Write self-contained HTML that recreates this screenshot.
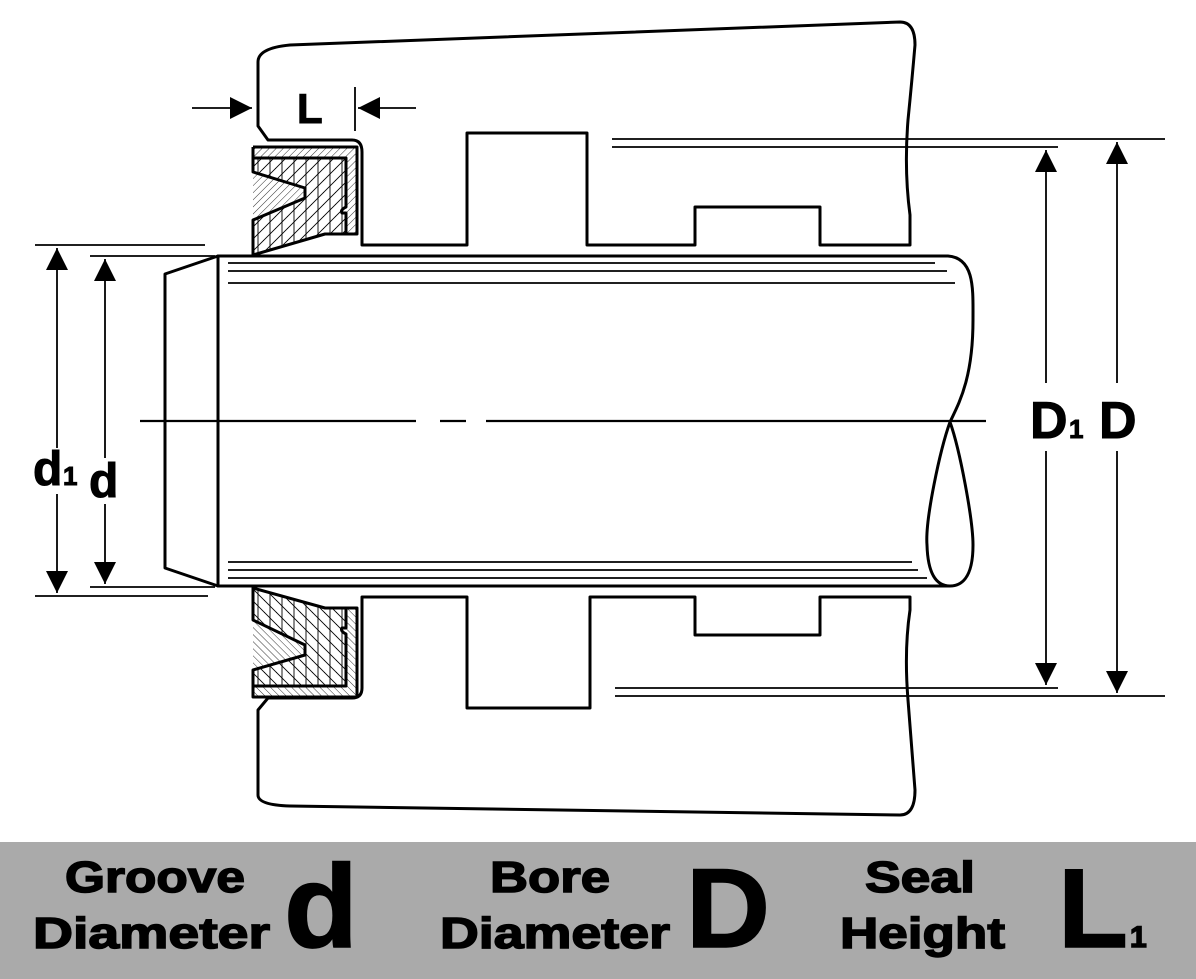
<!DOCTYPE html>
<html><head><meta charset="utf-8"><style>
html,body{margin:0;padding:0;background:#fff;}
svg{display:block;}
</style></head><body>
<svg width="1196" height="979" viewBox="0 0 1196 979" xmlns="http://www.w3.org/2000/svg">
<defs>
<pattern id="hs" width="5" height="5" patternUnits="userSpaceOnUse" patternTransform="rotate(45)">
<line x1="0" y1="0" x2="0" y2="5" stroke="#000" stroke-width="0.8"/></pattern>
<pattern id="hs2" width="5" height="5" patternUnits="userSpaceOnUse" patternTransform="rotate(-45)">
<line x1="0" y1="0" x2="0" y2="5" stroke="#000" stroke-width="0.8"/></pattern>
<pattern id="hx" width="12" height="12" patternUnits="userSpaceOnUse">
<line x1="0" y1="12" x2="12" y2="0" stroke="#000" stroke-width="0.9"/>
<line x1="-6" y1="6" x2="6" y2="-6" stroke="#000" stroke-width="0.9"/>
<line x1="6" y1="18" x2="18" y2="6" stroke="#000" stroke-width="0.9"/>
<line x1="6" y1="0" x2="6" y2="12" stroke="#000" stroke-width="0.9"/></pattern>
<pattern id="hx2" width="12" height="12" patternUnits="userSpaceOnUse">
<line x1="0" y1="0" x2="12" y2="12" stroke="#000" stroke-width="0.9"/>
<line x1="-6" y1="6" x2="6" y2="18" stroke="#000" stroke-width="0.9"/>
<line x1="6" y1="-6" x2="18" y2="6" stroke="#000" stroke-width="0.9"/>
<line x1="6" y1="0" x2="6" y2="12" stroke="#000" stroke-width="0.9"/></pattern>
<marker id="arL" viewBox="0 0 10 10" refX="10" refY="5" markerWidth="34" markerHeight="22" markerUnits="userSpaceOnUse" orient="auto">
<path d="M0 0 L10 5 L0 10 z" fill="#000"/></marker>
</defs>
<g fill="none" stroke="#000" stroke-width="3" stroke-linejoin="round">
<path d="M362 245 V152 Q362 140 352 140 H268 L258 126 V62 Q258 48 290 45 L900 22 Q915 22 915 45 Q912 80 908 120 Q904 170 910 215 L910 245 H820 V207 H695 V245 H587 V133 H467 V245 Z" fill="#fff"/>
<path d="M362 597 V688 Q362 698 352 698 H268 L258 710 V795 Q258 805 290 806 L900 815 Q915 815 915 790 Q912 750 908 700 Q904 650 910 610 L910 597 H820 V635 H695 V597 H590 V708 H467 V597 Z" fill="#fff"/>
<path d="M218 256 H948 C975 258 973 290 973 320 C973 380 958 405 950 422 C960 450 973 520 973 545 C973 580 960 586 950 586 H218 Z" fill="#fff"/>
<path d="M950 422 C940 450 925 520 927 545 C928 580 940 586 950 586"/>
<path d="M218 256 L165 274 V568 L218 586 Z" fill="#fff"/>
</g>
<g stroke="#000" stroke-width="1.8">
<line x1="228" y1="263" x2="935" y2="263"/><line x1="228" y1="271" x2="947" y2="271"/><line x1="228" y1="283" x2="955" y2="283"/>
<line x1="228" y1="562" x2="912" y2="562"/><line x1="228" y1="570" x2="918" y2="570"/><line x1="228" y1="578" x2="927" y2="578"/>
<line x1="140" y1="421" x2="416" y2="421" stroke-width="2.2"/><line x1="440" y1="421" x2="466" y2="421" stroke-width="2.2"/><line x1="486" y1="421" x2="986" y2="421" stroke-width="2.2"/>
<line x1="612" y1="139" x2="1165" y2="139"/><line x1="612" y1="147" x2="1058" y2="147"/>
<line x1="615" y1="688" x2="1058" y2="688"/><line x1="615" y1="696" x2="1165" y2="696"/>
<line x1="1046" y1="383" x2="1046" y2="150" marker-end="url(#arL)"/><line x1="1046" y1="451" x2="1046" y2="685" marker-end="url(#arL)"/>
<line x1="1117" y1="383" x2="1117" y2="142" marker-end="url(#arL)"/><line x1="1117" y1="451" x2="1117" y2="693" marker-end="url(#arL)"/>
<line x1="35" y1="245" x2="205" y2="245"/><line x1="35" y1="596" x2="208" y2="596"/>
<line x1="90" y1="256" x2="215" y2="256"/><line x1="90" y1="587" x2="215" y2="587"/>
<line x1="57" y1="448" x2="57" y2="248" marker-end="url(#arL)"/><line x1="57" y1="494" x2="57" y2="593" marker-end="url(#arL)"/>
<line x1="105" y1="458" x2="105" y2="259" marker-end="url(#arL)"/><line x1="105" y1="504" x2="105" y2="584" marker-end="url(#arL)"/>
<line x1="192" y1="108" x2="252" y2="108" marker-end="url(#arL)"/>
<line x1="416" y1="108" x2="358" y2="108" marker-end="url(#arL)"/>
<line x1="355" y1="87" x2="355" y2="131"/>
</g>
<g stroke="#000" stroke-linejoin="round">
<path d="M253 147 H357 V234 H253 Z" fill="url(#hs)" stroke="none"/>
<path d="M253 158 H346 V207 Q340 210 342 213 H346 V234 L325 234 L253 255 V220 L305 198 V188 L253 172 Z" fill="#fff" stroke="none"/>
<path d="M253 158 H346 V207 Q340 210 342 213 H346 V234 L325 234 L253 255 V220 L305 198 V188 L253 172 Z" fill="url(#hx)" stroke-width="3"/>
<path d="M253 147 H357 V234 H325 M253 158 V147" fill="none" stroke-width="3"/>
<path d="M253 697 H357 V608 H253 Z" fill="url(#hs2)" stroke="none"/>
<path d="M253 686 H346 V634 Q340 631 342 628 H346 V608 L325 608 L253 588 V620 L305 645 V655 L253 670 Z" fill="#fff" stroke="none"/>
<path d="M253 686 H346 V634 Q340 631 342 628 H346 V608 L325 608 L253 588 V620 L305 645 V655 L253 670 Z" fill="url(#hx2)" stroke-width="3"/>
<path d="M253 686 V697 H357 V608 H325" fill="none" stroke-width="3"/>
</g>
<g font-family="Liberation Sans, sans-serif" font-weight="bold" fill="#000" stroke="#000" stroke-width="1">
<text x="297" y="123" font-size="42">L</text>
<text x="1030" y="438" font-size="52">D</text><text x="1069" y="438" font-size="26">1</text>
<text x="1099" y="438" font-size="52">D</text>
<text x="33" y="485" font-size="48">d</text><text x="63" y="485" font-size="26">1</text>
<text x="89" y="497" font-size="48">d</text>
</g>
<rect x="0" y="842" width="1196" height="137" fill="#aaaaaa"/>
<g font-family="Liberation Sans, sans-serif" font-weight="bold" fill="#000" stroke="#000" stroke-width="1.5">
<text x="65" y="892" font-size="44" textLength="180" lengthAdjust="spacingAndGlyphs">Groove</text>
<text x="33" y="948" font-size="44" textLength="237" lengthAdjust="spacingAndGlyphs">Diameter</text>
<text x="284" y="947" font-size="118" textLength="74" lengthAdjust="spacingAndGlyphs">d</text>
<text x="490" y="892" font-size="44" textLength="120" lengthAdjust="spacingAndGlyphs">Bore</text>
<text x="440" y="948" font-size="44" textLength="230" lengthAdjust="spacingAndGlyphs">Diameter</text>
<text x="686" y="947" font-size="112" textLength="84" lengthAdjust="spacingAndGlyphs">D</text>
<text x="865" y="892" font-size="44" textLength="110" lengthAdjust="spacingAndGlyphs">Seal</text>
<text x="840" y="948" font-size="44" textLength="165" lengthAdjust="spacingAndGlyphs">Height</text>
<text x="1058" y="947" font-size="112" textLength="70" lengthAdjust="spacingAndGlyphs">L</text>
<text x="1130" y="947" font-size="30">1</text>
</g>
</svg>
</body></html>
